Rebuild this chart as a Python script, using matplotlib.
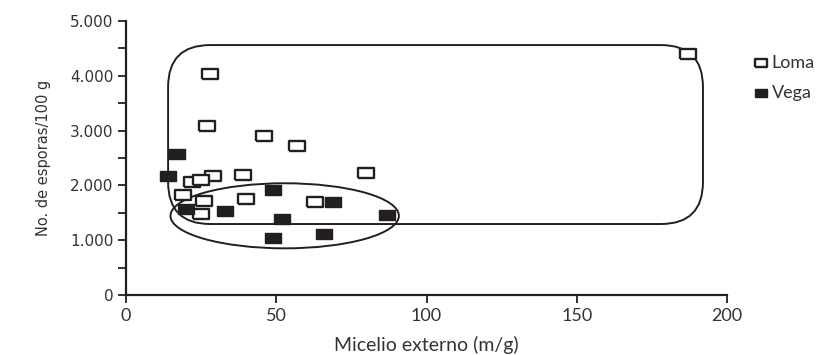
import matplotlib
matplotlib.use("Agg")
import matplotlib.pyplot as plt
from matplotlib.patches import FancyBboxPatch, Ellipse
from matplotlib.ticker import FixedLocator, MultipleLocator, FixedFormatter

# Data
loma_x = [28, 27, 46, 57, 187, 80, 39, 29, 22, 25, 19, 26, 40, 25, 63]
loma_y = [4030, 3090, 2900, 2720, 4400, 2230, 2190, 2170, 2060, 2090, 1825, 1715, 1750, 1480, 1700]
vega_x = [17, 14, 49, 20, 33, 52, 69, 87, 49, 66]
vega_y = [2570, 2170, 1915, 1570, 1530, 1390, 1700, 1460, 1040, 1110]

x_ticks = [0, 50, 100, 150, 200]
x_tick_labels = ["0", "50", "100", "150", "200"]
y_ticks = [0, 1000, 2000, 3000, 4000, 5000]
y_tick_labels = ["0", "1.000", "2.000", "3.000", "4.000", "5.000"]

x_label = "Micelio externo (m/g)"
y_label = "No. de esporas/100 g"
series_names = ["Loma", "Vega"]

# group outlines (data coordinates)
box_x0, box_x1, box_y0, box_y1 = 14, 192, 1295, 4560
ell_cx, ell_cy, ell_w, ell_h = 52.8, 1445, 76, 1187

plt.rcParams['font.family'] = ['Lato', 'DejaVu Sans']

fig = plt.figure(figsize=(8.21, 3.55), dpi=100)
ax = fig.add_axes([0.1535, 0.169, 0.732, 0.772])

rect_marker = [(-1.6, -1), (1.6, -1), (1.6, 1), (-1.6, 1), (-1.6, -1)]
ink = "#231f20"

ax.scatter(loma_x, loma_y, marker=rect_marker, s=125, facecolor="white",
           edgecolor=ink, linewidth=1.7, zorder=3, label=series_names[0])
ax.scatter(vega_x, vega_y, marker=rect_marker, s=120, facecolor=ink,
           edgecolor=ink, linewidth=1.0, zorder=3, label=series_names[1])

# rounded rectangle
xpx = 3.0      # pixels per x unit
ypx = 0.0548   # pixels per y unit
r = 14
box = FancyBboxPatch((box_x0, box_y0), box_x1 - box_x0, box_y1 - box_y0,
                     boxstyle=f"round,pad=0,rounding_size={r}",
                     mutation_aspect=xpx / ypx,
                     facecolor="none", edgecolor=ink, linewidth=1.4, zorder=2)
ax.add_patch(box)
ell = Ellipse((ell_cx, ell_cy), ell_w, ell_h, facecolor="none",
              edgecolor=ink, linewidth=1.4, zorder=2)
ax.add_patch(ell)

ax.set_xlim(0, 200)
ax.set_ylim(0, 5000)
ax.xaxis.set_major_locator(FixedLocator(x_ticks))
ax.xaxis.set_major_formatter(FixedFormatter(x_tick_labels))
ax.yaxis.set_major_locator(FixedLocator(y_ticks))
ax.yaxis.set_major_formatter(FixedFormatter(y_tick_labels))
ax.yaxis.set_minor_locator(MultipleLocator(500))

for s in ["top", "right"]:
    ax.spines[s].set_visible(False)
for s in ["left", "bottom"]:
    ax.spines[s].set_linewidth(1.6)
    ax.spines[s].set_color(ink)

ax.tick_params(axis="both", which="both", direction="out", color=ink, width=1.3)
ax.tick_params(axis="y", which="major", length=6, labelsize=11, pad=3)
ax.tick_params(axis="y", which="minor", length=6)
ax.tick_params(axis="x", which="major", length=6, labelsize=13, pad=3)
for lab in ax.get_yticklabels():
    lab.set_family(["DejaVu Sans"])
    lab.set_color("#333333")
for lab in ax.get_xticklabels():
    lab.set_color("#333333")

ax.set_xlabel(x_label, fontsize=14, color="#333333", labelpad=9)
ax.set_ylabel(y_label, fontsize=10.5, color="#333333", labelpad=14,
              family=["DejaVu Sans"])

leg = ax.legend(loc="upper left", bbox_to_anchor=(0.908, 0.865),
                bbox_transform=fig.transFigure, frameon=False,
                handlelength=0.9, handletextpad=0.15, labelspacing=0.75,
                fontsize=13, borderaxespad=0, markerscale=0.75)
for t in leg.get_texts():
    t.set_color("#333333")

fig.savefig("out.png", dpi=100)
